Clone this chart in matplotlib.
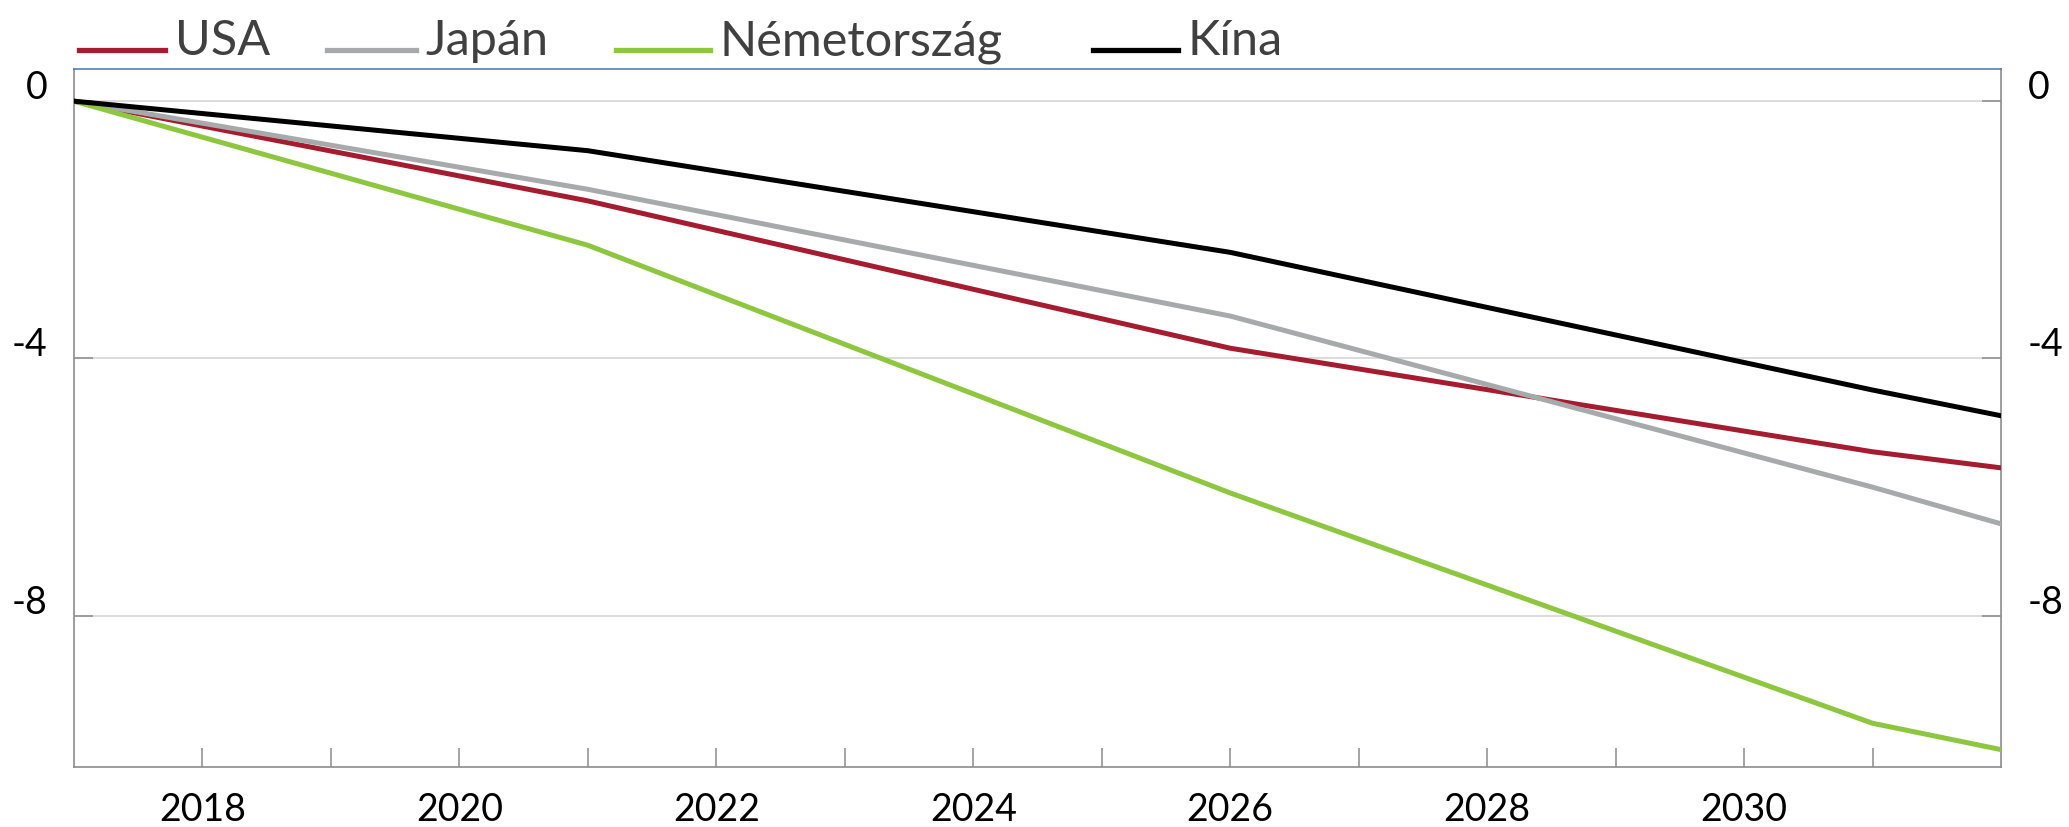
import matplotlib
matplotlib.use("Agg")
import matplotlib.pyplot as plt
from matplotlib.lines import Line2D
from matplotlib.transforms import ScaledTranslation

plt.rcParams['font.family'] = ['Lato', 'DejaVu Sans']

# DATA (kink points of each line)
years = [2017, 2021, 2026, 2031, 2032]
usa = [0.0, -1.55, -3.84, -5.45, -5.70]
japan = [0.0, -1.37, -3.34, -6.00, -6.57]
germany = [0.0, -2.24, -6.09, -9.67, -10.08]
china = [0.0, -0.77, -2.35, -4.49, -4.89]

series_names = ['USA', 'Japán', 'Németország', 'Kína']
series_vals = [usa, japan, germany, china]
series_cols = ['#A51C30', '#A7AAAA', '#8DC63F', '#000000']

yticks = [0, -4, -8]
major_years = list(range(2018, 2031, 2))
minor_years = list(range(2019, 2032, 2))

W, H = 2069, 827
fig = plt.figure(figsize=(W / 100, H / 100), dpi=100)
ax = fig.add_axes([74 / W, 1 - 767 / H, (2001 - 74) / W, (767 - 69) / H])

# lines
for name, vals, col in zip(series_names, series_vals, series_cols):
    ax.plot(years, vals, color=col, lw=3.6, solid_joinstyle='round', zorder=3)

ax.set_xlim(2017, 2032)
ax.set_ylim(-10.35, 0.5)

# grid
ax.set_yticks(yticks)
ax.set_yticklabels([str(v) for v in yticks])
ax.yaxis.grid(True, color='#D9D9D9', lw=1.3, zorder=0)
ax.set_axisbelow(True)

# spines
for s in ['left', 'right', 'bottom']:
    ax.spines[s].set_color('#8C8C8C')
    ax.spines[s].set_linewidth(1.2)
ax.spines['top'].set_color('#4F7EC0')
ax.spines['top'].set_linewidth(1.2)

# x ticks
ax.set_xticks(major_years)
ax.set_xticklabels([str(y) for y in major_years])
ax.set_xticks(minor_years, minor=True)
ax.tick_params(axis='x', which='both', direction='in', length=14, width=1.1,
               color='#8C8C8C', pad=18, labelsize=27)
ax.tick_params(axis='y', which='both', direction='in', length=14, width=1.1,
               color='#8C8C8C', labelsize=27, left=True, right=True,
               labelleft=True, labelright=True)
ax.yaxis.set_tick_params(pad=19)
# y labels sit a bit above their gridline
for t in ax.yaxis.get_major_ticks():
    t.label1.set_transform(t.label1.get_transform() + ScaledTranslation(0, 12 / 72, fig.dpi_scale_trans))
    t.label2.set_transform(t.label2.get_transform() + ScaledTranslation(0, 12 / 72, fig.dpi_scale_trans))

# legend drawn along the top
leg_line_x = [(79, 165), (327, 416), (616, 710), (1093, 1178)]
leg_text_x = [175, 425, 719, 1188]
for (x0, x1), tx, name, col in zip(leg_line_x, leg_text_x, series_names, series_cols):
    fig.add_artist(Line2D([x0 / W, x1 / W], [1 - 50 / H, 1 - 50 / H],
                          transform=fig.transFigure, color=col, lw=3.8))
    fig.text(tx / W, 1 - 55 / H, name, fontsize=35, color='#404040',
             ha='left', va='baseline')

fig.savefig('out.png', dpi=100)
